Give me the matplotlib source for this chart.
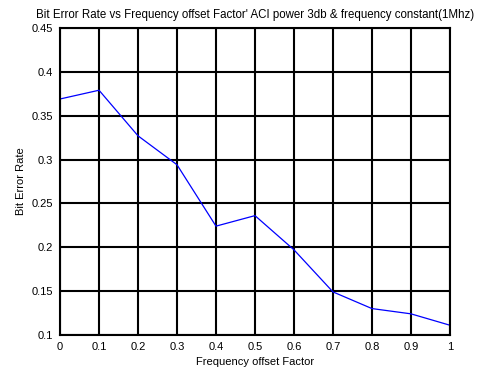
import numpy as np
import matplotlib
matplotlib.use("Agg")
from matplotlib import pyplot as plt

# frequency offset factor vs measured bit error rate
offset = [0, 0.1, 0.2, 0.3, 0.4, 0.5, 0.6, 0.7, 0.8, 0.9, 1.0]
ber = [0.369, 0.379, 0.327, 0.294, 0.224, 0.236, 0.197, 0.149, 0.130, 0.124, 0.111]

xticks = [0, 0.1, 0.2, 0.3, 0.4, 0.5, 0.6, 0.7, 0.8, 0.9, 1]
xlabels = ["0", "0.1", "0.2", "0.3", "0.4", "0.5", "0.6", "0.7", "0.8", "0.9", "1"]
yticks = [0.1, 0.15, 0.2, 0.25, 0.3, 0.35, 0.4, 0.45]
ylabels = ["0.1", "0.15", "0.2", "0.25", "0.3", "0.35", "0.4", "0.45"]

plt.rcParams["font.family"] = ["Liberation Sans", "DejaVu Sans"]

fig = plt.figure(figsize=(4.88, 3.68), dpi=100)
ax = fig.add_axes([0.123, 0.09, 0.799, 0.834])
ax.plot(offset, ber, color="#0000ff", linewidth=0.9)

ax.set_xlim(0, 1)
ax.set_ylim(0.1, 0.45)
ax.set_xticks(xticks)
ax.set_xticklabels(xlabels)
ax.set_yticks(yticks)
ax.set_yticklabels(ylabels)
ax.tick_params(labelsize=8, length=0, pad=5)
ax.grid(True, color="black", linewidth=1.5)
for s in ax.spines.values():
    s.set_linewidth(1.5)

ax.set_xlabel("Frequency offset Factor", fontsize=8, labelpad=4)
ax.set_ylabel("Bit Error Rate", fontsize=8, labelpad=4)
ax.set_title("Bit Error Rate vs Frequency offset Factor' ACI power 3db & frequency constant(1Mhz)",
             fontsize=8.3, pad=7)

fig.savefig("out.png", dpi=100)
